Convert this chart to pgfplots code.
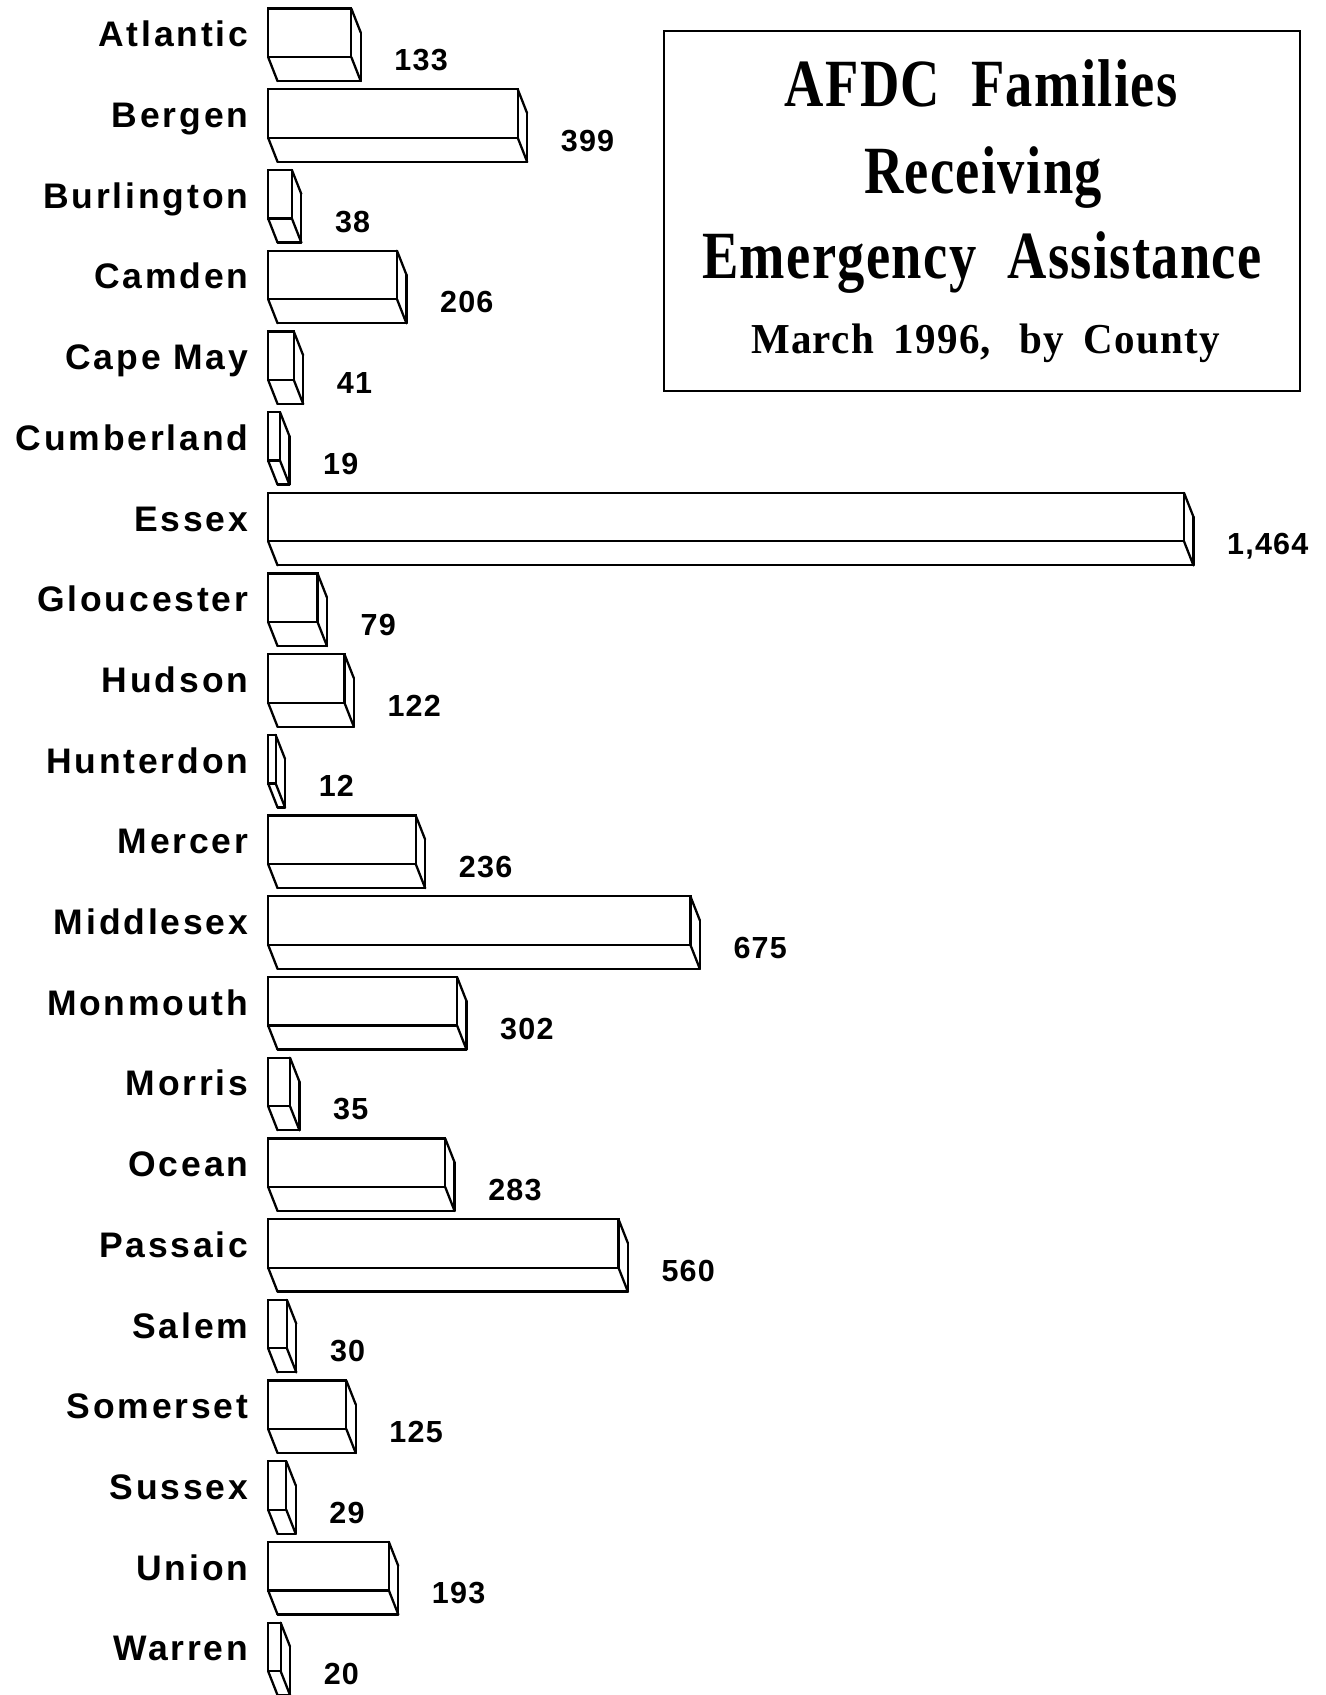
\documentclass[border=0pt]{standalone}
\usepackage{pgfplots}
\usepackage{pgfplotstable}
\pgfplotsset{compat=1.18}
\usepackage{fontspec}
\setmainfont{Liberation Sans}
\newfontfamily\labfont{Liberation Sans}[LetterSpace=8]
\newfontfamily\valfontfam{Liberation Sans}[LetterSpace=4]
\newfontfamily\titlefontfam{Liberation Serif}[LetterSpace=2.5]
\newfontfamily\subfontfam{Liberation Serif}[LetterSpace=3]
\newcommand\catfont{\labfont\bfseries\fontsize{10.1pt}{12pt}\selectfont}
\newcommand\valfont{\valfontfam\bfseries\fontsize{8.68pt}{10pt}\selectfont}
\newcommand\titlefont{\titlefontfam\bfseries\fontsize{15.5pt}{17pt}\selectfont}
\newcommand\subfont{\subfontfam\bfseries\fontsize{11.67pt}{14pt}\selectfont}

\pgfplotstableread{
y val
0 133
1 399
2 38
3 206
4 41
5 19
6 1464
7 79
8 122
9 12
10 236
11 675
12 302
13 35
14 283
15 560
16 30
17 125
18 29
19 193
20 20
}\data

\begin{document}
\begin{tikzpicture}
\useasboundingbox (0,0) rectangle (13.25,-16.95);
\begin{axis}[
  at={(0,0)}, anchor=north west,
  x=0.006253cm, y=0.807cm,
  xmin=-428.6, xmax=1690.4, ymin=-0.407, ymax=20.597,
  y dir=reverse,
  hide x axis,
  axis y line*=left,
  y axis line style={draw=none},
  ytick={0,...,20},
  ytick style={draw=none},
  yticklabels={Atlantic,Bergen,Burlington,Camden,Cape May,Cumberland,Essex,Gloucester,Hudson,Hunterdon,Mercer,Middlesex,Monmouth,Morris,Ocean,Passaic,Salem,Somerset,Sussex,Union,Warren},
  yticklabel style={font=\catfont, anchor=base east, inner sep=0pt, xshift=2.49cm, yshift=-0.14cm},
  clip=false,
  /pgf/number format/assume math mode=true,
]
% front faces
\addplot[xbar, bar width=0.601, fill=white, draw=black, line width=0.65pt] table[x=val, y=y]{\data};
% slanted depth edges
\addplot[black, line width=0.65pt, line cap=round, quiver={u=15.03, v=0.297}] table[x expr=0, y expr=\thisrow{y}+0.3005]{\data};
\addplot[black, line width=0.65pt, line cap=round, quiver={u=15.03, v=0.297}] table[x expr=\thisrow{val}, y expr=\thisrow{y}-0.3005]{\data};
\addplot[black, line width=0.65pt, line cap=round, quiver={u=15.03, v=0.297}] table[x expr=\thisrow{val}, y expr=\thisrow{y}+0.3005]{\data};
% bottom back edge
\addplot[black, line width=0.65pt, line cap=round, quiver={u=\thisrow{val}, v=0}] table[x expr=15.03, y expr=\thisrow{y}+0.5975]{\data};
% right back edge
\addplot[black, line width=0.65pt, line cap=round, quiver={u=0, v=0.601}] table[x expr=\thisrow{val}+15.03, y expr=\thisrow{y}-0.0035]{\data};
% value labels
\addplot[only marks, mark=text, text mark={}, nodes near coords, point meta=\thisrow{val},
  every node near coord/.style={anchor=base west, inner sep=0pt, font=\valfont, text=black}]
  table[x expr=\thisrow{val}+67.8, y expr=\thisrow{y}+0.468]{\data};
\end{axis}
\draw[line width=0.45pt] (6.64,-0.31) rectangle (13.00,-3.91);
\node[anchor=base, inner sep=0pt] at (9.81,-1.067) {\scalebox{1}[1.24]{\titlefont AFDC\hspace{0.16cm} Families}};
\node[anchor=base, inner sep=0pt] at (9.83,-1.933) {\scalebox{1}[1.24]{\titlefont Receiving}};
\node[anchor=base, inner sep=0pt] at (9.82,-2.783) {\scalebox{1}[1.24]{\titlefont Emergency\hspace{0.16cm} Assistance}};
\node[anchor=base, inner sep=0pt] at (9.855,-3.533) {\scalebox{1}[1.04]{\subfont March\hspace{0.2cm}1996,\hspace{0.28cm}by\hspace{0.2cm}County}};
\end{tikzpicture}
\end{document}
